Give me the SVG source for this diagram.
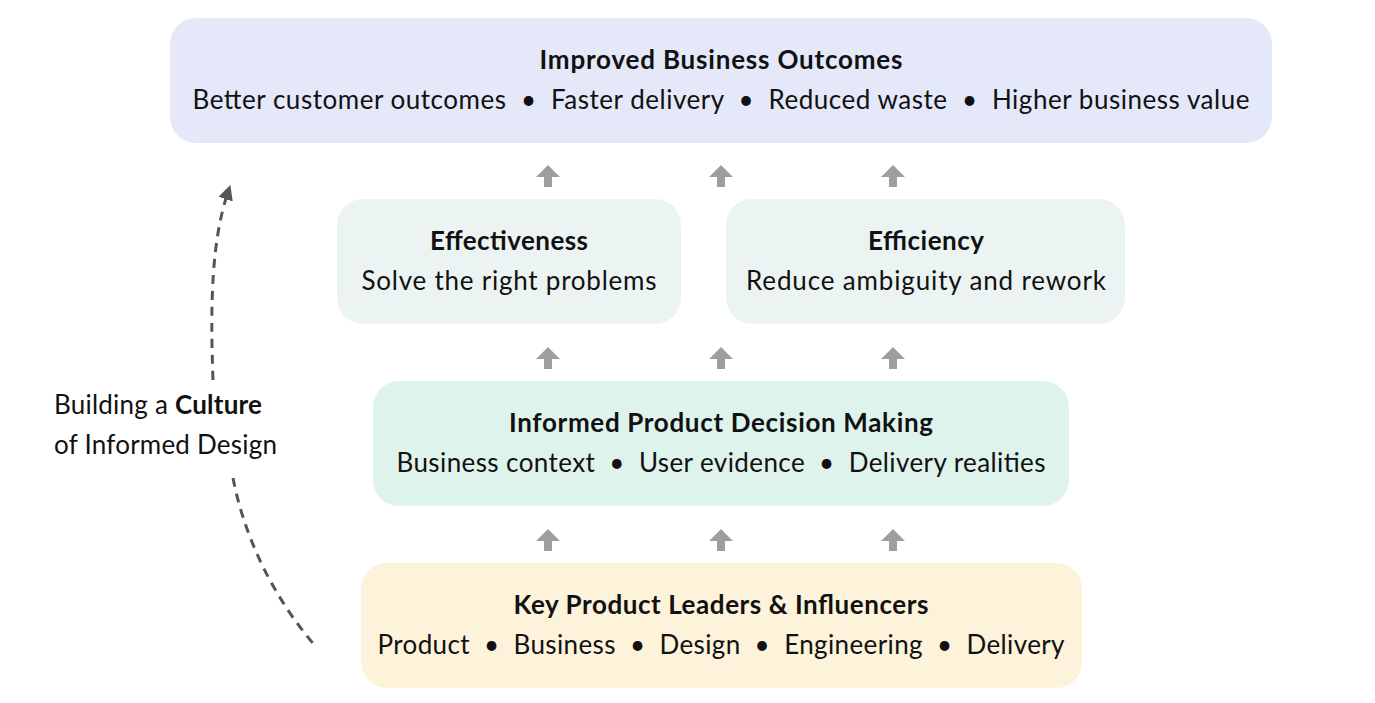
<svg xmlns="http://www.w3.org/2000/svg" width="1375" height="703" viewBox="0 0 1375 703">
<defs>
<style>
text{font-family:Lato,"Noto Sans",sans-serif;fill:#111;text-anchor:middle;font-size:26px}
.b{font-weight:bold}
.ar{fill:#9e9e9e}
.dash{fill:none;stroke:#555;stroke-width:3;stroke-dasharray:9 7}
</style>
<marker id="ah" viewBox="0 0 10 10" refX="5" refY="5" markerWidth="5" markerHeight="5" orient="auto"><path d="M0,0 L10,5 L0,10 z" fill="#555"/></marker>
<symbol id="up" viewBox="0 0 24 22" overflow="visible"><path class="ar" d="M12,0 L24,12 L16,12 L16,22 L8,22 L8,12 L0,12 z"/></symbol>
</defs>
<rect width="1375" height="703" fill="#fff"/>
<g id="outcomes"><rect x="170" y="18" width="1102" height="125" rx="26" fill="#e4e8f9"/>
<text class="b" x="721" y="69" textLength="363" lengthAdjust="spacing">Improved Business Outcomes</text>
<text x="721" y="109" textLength="1057" lengthAdjust="spacing">Better customer outcomes &#160;•&#160; Faster delivery &#160;•&#160; Reduced waste &#160;•&#160; Higher business value</text></g>
<g id="effectiveness"><rect x="337" y="199" width="344" height="125" rx="26" fill="#ecf4f3"/>
<text class="b" x="509" y="250" textLength="158" lengthAdjust="spacing">Effectiveness</text>
<text x="509" y="290" textLength="295" lengthAdjust="spacing">Solve the right problems</text></g>
<g id="efficiency"><rect x="726" y="199" width="399" height="125" rx="26" fill="#ecf4f3"/>
<text class="b" x="926" y="250" textLength="116" lengthAdjust="spacing">Efficiency</text>
<text x="926" y="290" textLength="360" lengthAdjust="spacing">Reduce ambiguity and rework</text></g>
<g id="decision"><rect x="373" y="381" width="696" height="125" rx="26" fill="#def3ec"/>
<text class="b" x="721" y="432" textLength="424" lengthAdjust="spacing">Informed Product Decision Making</text>
<text x="721" y="472" textLength="649" lengthAdjust="spacing">Business context &#160;•&#160; User evidence &#160;•&#160; Delivery realities</text></g>
<g id="leaders"><rect x="361" y="563" width="721" height="125" rx="26" fill="#fdf2da"/>
<text class="b" x="721" y="614" textLength="415" lengthAdjust="spacing">Key Product Leaders &amp; Influencers</text>
<text x="721" y="654" textLength="687" lengthAdjust="spacing">Product &#160;•&#160; Business &#160;•&#160; Design &#160;•&#160; Engineering &#160;•&#160; Delivery</text></g>
<g id="culture-label">
<text x="54" y="414" style="text-anchor:start" textLength="208" lengthAdjust="spacing">Building a <tspan class="b">Culture</tspan></text>
<text x="54" y="454" style="text-anchor:start" textLength="223" lengthAdjust="spacing">of Informed Design</text></g>
<g id="connectors">
<use href="#up" x="536" y="165" width="24" height="22"/>
<use href="#up" x="709" y="165" width="24" height="22"/>
<use href="#up" x="881" y="165" width="24" height="22"/>
<use href="#up" x="536" y="347" width="24" height="22"/>
<use href="#up" x="709" y="347" width="24" height="22"/>
<use href="#up" x="881" y="347" width="24" height="22"/>
<use href="#up" x="536" y="529" width="24" height="22"/>
<use href="#up" x="709" y="529" width="24" height="22"/>
<use href="#up" x="881" y="529" width="24" height="22"/>
<path class="dash" d="M213,380 C210,300 212,240 228,192" marker-end="url(#ah)"/>
<path class="dash" d="M233,478 C245,540 275,600 317,648"/>
</g>
</svg>
